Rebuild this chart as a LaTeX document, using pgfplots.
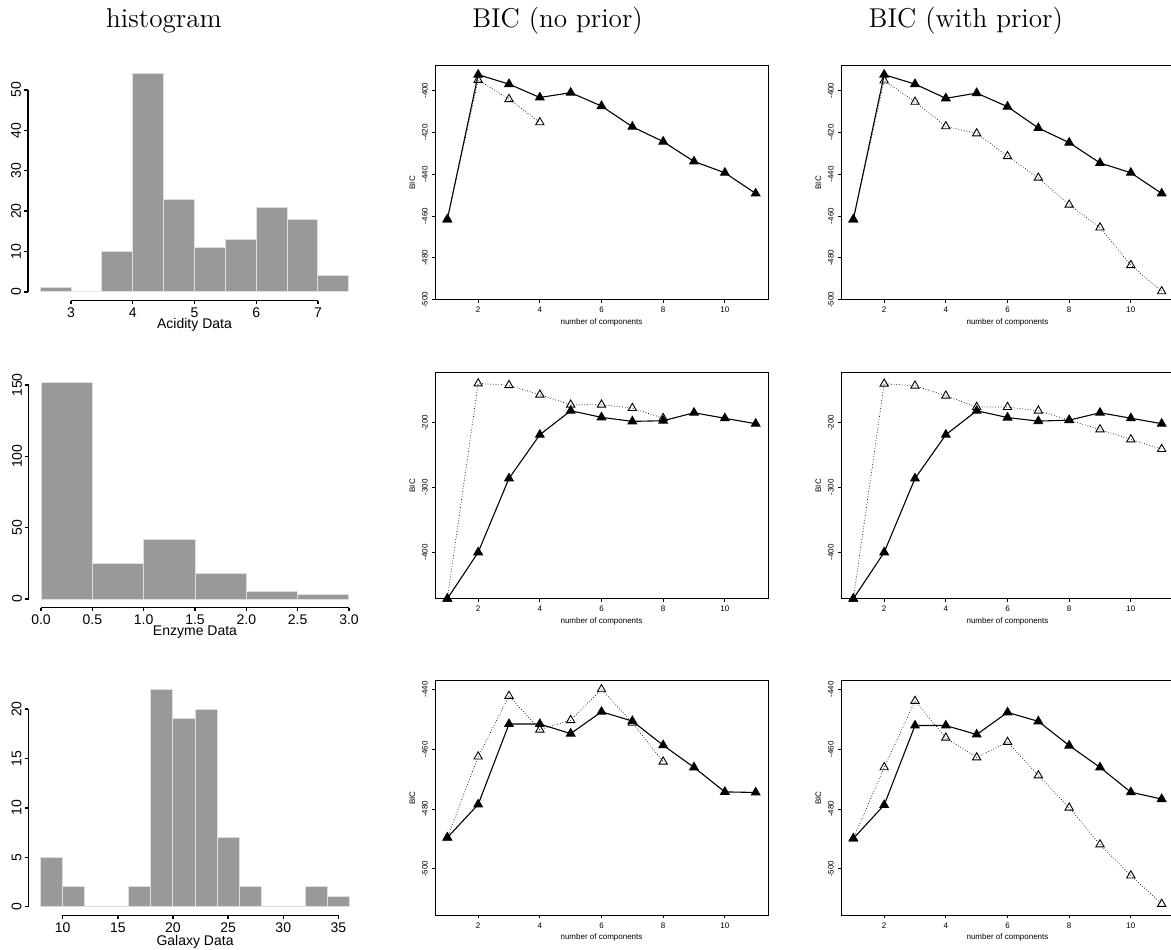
\documentclass[border=0pt]{standalone}
\usepackage{pgfplots}
\pgfplotsset{compat=1.18}
\usepackage{fontspec}
\newfontfamily\hv{Liberation Sans}
\definecolor{hgray}{RGB}{153,153,153}
\definecolor{hborder}{RGB}{222,222,222}
\pgfplotsset{
  histax/.style={scale only axis, axis x line*=bottom, axis y line*=left,
    x axis line style={draw=none}, y axis line style={draw=none},
    tick align=outside, major tick length=1.8pt,
    every tick/.style={black, line width=0.7pt},
    tick label style={font=\hv\fontsize{7}{8}\selectfont, inner sep=0pt},
    xticklabel style={anchor=north, yshift=-1.6pt},
    yticklabel style={rotate=90, anchor=south, yshift=1.4pt},
    every axis x label/.style={at={(axis description cs:0.5,0)}, anchor=base, yshift=-13.8pt, font=\hv\fontsize{7}{8}\selectfont},
    clip=false, /pgf/number format/assume math mode=true},
  xline/.style={scale only axis, axis x line*=bottom, hide y axis, xtick=\empty,
    x axis line style={black, line width=0.7pt, -}},
  yline/.style={scale only axis, axis y line*=left, hide x axis, ytick=\empty,
    y axis line style={black, line width=0.7pt, -}},
  bicax/.style={scale only axis, width=166.5pt, xmin=0.6, xmax=11.4, xtick={2,4,6,8,10},
    xtick pos=bottom, ytick pos=left,
    tick align=outside, major tick length=1.5pt,
    axis line style={line width=0.5pt},
    every tick/.style={black, line width=0.4pt},
    tick label style={font=\hv\fontsize{4}{4.5}\selectfont, inner sep=0pt},
    xticklabel style={anchor=north, yshift=-2pt},
    yticklabel style={rotate=90, anchor=south, yshift=2pt},
    xlabel={number of components}, ylabel={BIC},
    every axis x label/.style={at={(axis description cs:0.5,0)}, anchor=center, yshift=-11.2pt, font=\hv\fontsize{4}{4.5}\selectfont},
    every axis y label/.style={at={(axis description cs:0,0.5)}, xshift=-11.35pt, rotate=90, anchor=center, font=\hv\fontsize{4}{4.5}\selectfont},
    clip=false, /pgf/number format/assume math mode=true},
  filled/.style={black, line width=0.55pt, mark=triangle*, mark size=2.4pt, mark options={solid, fill=black}},
  open/.style={black, line width=0.35pt, densely dotted, mark=triangle, mark size=2.4pt, mark options={solid, fill=none, line width=0.45pt}},
}
\begin{document}
\begin{tikzpicture}
\useasboundingbox (0pt,0pt) rectangle (585.5pt,-474.5pt);
% titles
\node[anchor=base, font=\fontsize{13.6}{16}\selectfont, inner sep=0pt] at (82pt,-13.5pt) {histogram};
\node[anchor=base, font=\fontsize{13.6}{16}\selectfont, inner sep=0pt] at (278.75pt,-13.5pt) {BIC (no prior)};
\node[anchor=base, font=\fontsize{13.6}{16}\selectfont, inner sep=0pt] at (482.9pt,-13.5pt) {BIC (with prior)};

% ---------- Row 1 ----------
\begin{axis}[histax, at={(13.9pt,-150.35pt)}, anchor=south west, width=166.7pt, height=117.8pt,
  xmin=2.3, xmax=7.7, ymin=-2.16, ymax=56.16, xtick={3,4,5,6,7}, ytick={0,10,20,30,40,50},
  xlabel={Acidity Data}]
\addplot[ybar interval, fill=hgray, draw=hborder, line width=0.5pt] coordinates {
 (2.5,1) (3,0) (3.5,10) (4,54) (4.5,23) (5,11) (5.5,13) (6,21) (6.5,18) (7,4) (7.5,4)};
\end{axis}
\begin{axis}[xline, at={(35.51pt,-150.35pt)}, anchor=south west, width=123.48pt, height=117.8pt, xmin=3, xmax=7, ymin=0, ymax=1]
\end{axis}
\begin{axis}[yline, at={(13.9pt,-145.99pt)}, anchor=south west, width=166.7pt, height=101pt, xmin=0, xmax=1, ymin=0, ymax=50]
\end{axis}

\begin{axis}[bicax, at={(217.5pt,-149.85pt)}, anchor=south west, height=117pt,
  ymin=-500, ymax=-388.1, ytick={-500,-480,-460,-440,-420,-400}]
\addplot[open] coordinates {(1,-461.6)(2,-394.9)(3,-404.1)(4,-415.2)};
\addplot[filled] coordinates {(1,-461.6)(2,-392.4)(3,-396.9)(4,-403.3)(5,-401.0)(6,-407.4)(7,-417.3)(8,-424.4)(9,-433.9)(10,-439.3)(11,-449.2)};
\end{axis}

\begin{axis}[bicax, at={(420.5pt,-149.85pt)}, anchor=south west, height=117pt,
  ymin=-500, ymax=-388.1, ytick={-500,-480,-460,-440,-420,-400}]
\addplot[open] coordinates {(1,-461.6)(2,-395.2)(3,-405.4)(4,-417.1)(5,-420.5)(6,-431.4)(7,-441.7)(8,-454.6)(9,-465.5)(10,-483.5)(11,-496.0)};
\addplot[filled] coordinates {(1,-461.6)(2,-392.4)(3,-396.9)(4,-403.7)(5,-401.2)(6,-407.7)(7,-417.9)(8,-424.9)(9,-434.6)(10,-439.3)(11,-449.2)};
\end{axis}

% ---------- Row 2 ----------
\begin{axis}[histax, at={(14.35pt,-303.85pt)}, anchor=south west, width=166.3pt, height=117.15pt,
  xmin=-0.12, xmax=3.12, ymin=-6.08, ymax=158.08, xtick={0,0.5,1,1.5,2,2.5,3}, ytick={0,50,100,150},
  xticklabel style={/pgf/number format/.cd, fixed, fixed zerofill, precision=1},
  xlabel={Enzyme Data}]
\addplot[ybar interval, fill=hgray, draw=hborder, line width=0.5pt] coordinates {
 (0,152) (0.5,25) (1,42) (1.5,18) (2,5) (2.5,3) (3,3)};
\end{axis}
\begin{axis}[xline, at={(20.51pt,-303.85pt)}, anchor=south west, width=153.98pt, height=117.15pt, xmin=0, xmax=3, ymin=0, ymax=1]
\end{axis}
\begin{axis}[yline, at={(14.35pt,-299.51pt)}, anchor=south west, width=166.3pt, height=107.05pt, xmin=0, xmax=1, ymin=0, ymax=150]
\end{axis}

\begin{axis}[bicax, at={(217.5pt,-299.35pt)}, anchor=south west, height=113pt,
  ymin=-471.6, ymax=-122.8, ytick={-400,-300,-200}]
\addplot[open] coordinates {(1,-471.6)(2,-139.5)(3,-142)(4,-156.8)(5,-172.2)(6,-172.2)(7,-177.4)(8,-193)};
\addplot[filled] coordinates {(1,-471.6)(2,-400)(3,-285.9)(4,-218.5)(5,-181.5)(6,-191.7)(7,-197.9)(8,-196.9)(9,-184.6)(10,-193.1)(11,-201.5)};
\end{axis}

\begin{axis}[bicax, at={(420.5pt,-299.35pt)}, anchor=south west, height=113pt,
  ymin=-471.6, ymax=-122.8, ytick={-400,-300,-200}]
\addplot[open] coordinates {(1,-471.6)(2,-139.8)(3,-142.9)(4,-158.3)(5,-175.8)(6,-175.8)(7,-181.5)(8,-196)(9,-210.4)(10,-225.8)(11,-240.7)};
\addplot[filled] coordinates {(1,-471.6)(2,-400)(3,-286)(4,-218.5)(5,-181.5)(6,-192)(7,-197.5)(8,-196)(9,-184.6)(10,-193)(11,-201.5)};
\end{axis}

% ---------- Row 3 ----------
\begin{axis}[histax, at={(14.15pt,-457.7pt)}, anchor=south west, width=166.75pt, height=117.4pt,
  xmin=6.88, xmax=37.12, ymin=-0.88, ymax=22.88, xtick={10,15,20,25,30,35}, ytick={0,5,10,15,20},
  every axis x label/.append style={yshift=-1.2pt},
  xlabel={Galaxy Data}]
\addplot[ybar interval, fill=hgray, draw=hborder, line width=0.5pt] coordinates {
 (8,5) (10,2) (12,0) (14,0) (16,2) (18,22) (20,19) (22,20) (24,7) (26,2) (28,0) (30,0) (32,2) (34,1) (36,1)};
\end{axis}
\begin{axis}[xline, at={(31.35pt,-457.7pt)}, anchor=south west, width=137.86pt, height=117.4pt, xmin=10, xmax=35, ymin=0, ymax=1]
\end{axis}
\begin{axis}[yline, at={(14.15pt,-453.35pt)}, anchor=south west, width=166.75pt, height=98.82pt, xmin=0, xmax=1, ymin=0, ymax=20]
\end{axis}

\begin{axis}[bicax, at={(217.5pt,-457.65pt)}, anchor=south west, height=117.3pt,
  ymin=-515.6, ymax=-437.1, ytick={-500,-480,-460,-440}]
\addplot[open] coordinates {(1,-489.6)(2,-462.5)(3,-442.2)(4,-453.5)(5,-450.3)(6,-440)(7,-451.2)(8,-464.2)};
\addplot[filled] coordinates {(1,-489.6)(2,-478.5)(3,-451.6)(4,-451.6)(5,-454.8)(6,-447.5)(7,-450.6)(8,-458.7)(9,-466.1)(10,-474.3)(11,-474.5)};
\end{axis}

\begin{axis}[bicax, at={(420.5pt,-457.65pt)}, anchor=south west, height=117.3pt,
  ymin=-515.6, ymax=-437.1, ytick={-500,-480,-460,-440}]
\addplot[open] coordinates {(1,-489.9)(2,-466.1)(3,-443.9)(4,-456.2)(5,-462.8)(6,-457.6)(7,-468.8)(8,-479.6)(9,-491.9)(10,-502.3)(11,-511.8)};
\addplot[filled] coordinates {(1,-489.9)(2,-478.7)(3,-452.1)(4,-452.1)(5,-455.1)(6,-447.7)(7,-450.7)(8,-458.8)(9,-466.1)(10,-474.4)(11,-476.7)};
\end{axis}
\end{tikzpicture}
\end{document}
